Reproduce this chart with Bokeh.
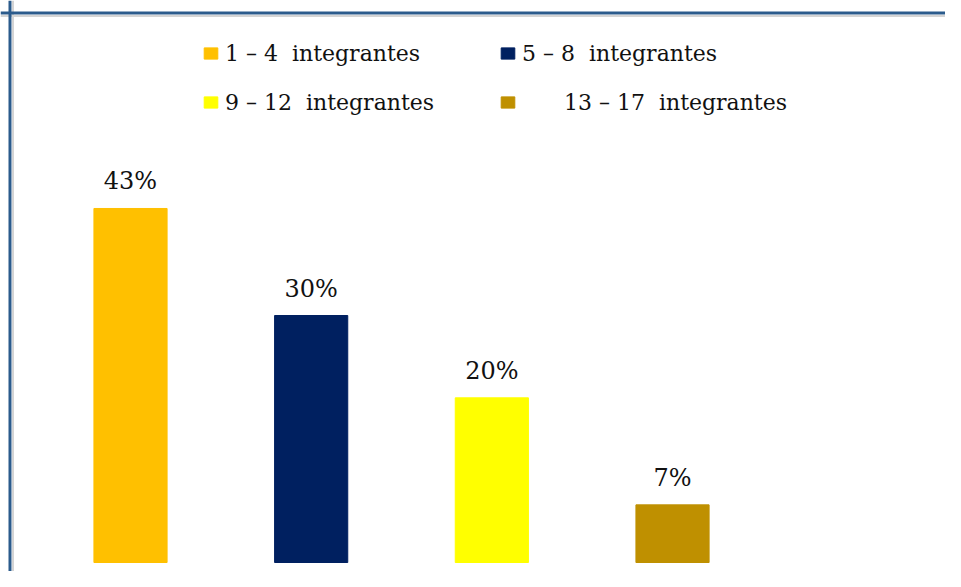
from bokeh.plotting import figure
from bokeh.models import ColumnDataSource, Range1d, Legend, LegendItem, Span, LabelSet
from bokeh.core.properties import value
from bokeh.embed import file_html
from bokeh.resources import INLINE

categories = ["1 – 4 integrantes", "5 – 8 integrantes", "9 – 12 integrantes", "13 – 17 integrantes"]
percent = [43, 30, 20, 7]
labels = ["43%", "30%", "20%", "7%"]
colors = ["#FFC000", "#002060", "#FFFF00", "#BF9000"]

W, H = 945, 571
FONT = "DejaVu Serif"

xs = list(range(len(categories)))
src = ColumnDataSource(dict(x=xs, top=percent, lab=labels, color=colors, cat=categories))

p = figure(width=W, height=H, output_backend="svg", toolbar_location=None,
           x_range=Range1d(-0.7196, 4.511), y_range=Range1d(-1.093, 68.26),
           min_border=0, min_border_left=0, min_border_right=0,
           min_border_top=0, min_border_bottom=0)
p.xaxis.visible = False
p.yaxis.visible = False
p.xgrid.visible = False
p.ygrid.visible = False
p.outline_line_color = None
p.background_fill_color = "white"
p.border_fill_color = "white"

r = p.vbar(x="x", top="top", bottom=0, width=0.405, color="color", source=src)

p.add_layout(LabelSet(x="x", y="top", text="lab", source=src, text_align="center",
                      text_baseline="middle", y_offset=27, text_font=value(FONT),
                      text_font_size="24px", text_color="#111111"))

items = [LegendItem(label="1 – 4\u00a0 integrantes", renderers=[r], index=0),
         LegendItem(label="5 – 8\u00a0 integrantes", renderers=[r], index=1),
         LegendItem(label="9 – 12\u00a0 integrantes", renderers=[r], index=2),
         LegendItem(label="\u00a0" * 6 + "13 – 17\u00a0 integrantes", renderers=[r], index=3)]
leg = Legend(items=items, location=(202, 453), orientation="horizontal", ncols=2,
             glyph_width=17, glyph_height=14, label_standoff=6, spacing=17,
             label_text_font=FONT, label_text_font_size="22px", label_text_color="#111111",
             label_width=257, label_height=32, padding=0, margin=0, border_line_color=None,
             background_fill_alpha=0)
p.add_layout(leg, "center")

# frame border (left and top) with light inner shadow
p.add_layout(Span(location=12.5, location_units="screen", dimension="height",
                  line_color="#D4D4D4", line_width=2))
p.add_layout(Span(location=H - 15.5, location_units="screen", dimension="width",
                  line_color="#D4D4D4", line_width=2))
p.add_layout(Span(location=9.5, location_units="screen", dimension="height",
                  line_color="#2B5B8C", line_width=3))
p.add_layout(Span(location=H - 12.5, location_units="screen", dimension="width",
                  line_color="#2B5B8C", line_width=3))

open("out.html", "w").write(file_html(p, INLINE))
